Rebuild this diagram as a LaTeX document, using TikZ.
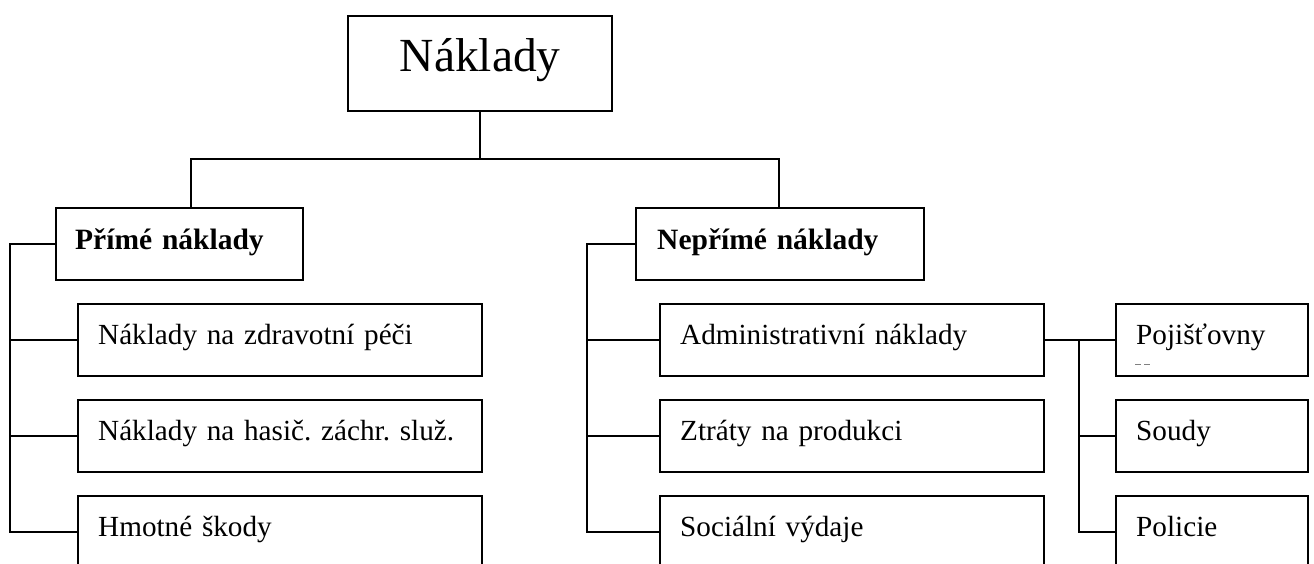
\documentclass[tikz,border=0pt]{standalone}
\usepackage{fontspec}
\setmainfont{Liberation Serif}
\begin{document}
\frenchspacing
\begin{tikzpicture}[x=1pt,y=-1pt,
  box/.style={draw, line width=2.4pt, inner ysep=0pt, inner xsep=20pt, anchor=north west, align=left,
    font=\fontsize{29.2}{36}\selectfont\frenchspacing},
  child/.style={box, text height=40pt, text depth=32pt},
  head/.style={box, text height=41pt, text depth=31pt, font=\fontsize{29.5}{36}\selectfont\frenchspacing\bfseries},
  conn/.style={line width=2.4pt}]
\useasboundingbox (0,0) rectangle (1314,563);
\clip (0,0) rectangle (1314,563);

% root
\node[box, align=center, text width=224pt, text height=55pt, text depth=40pt,
      font=\fontsize{47.5}{55}\selectfont] (root) at (347,15) {Náklady};

% level 1
\node[head, text width=209pt, inner xsep=19pt] (prime) at (55,207) {Přímé náklady};
\node[head, text width=246pt, inner xsep=21pt] (neprime) at (635,207) {Nepřímé náklady};

% direct costs
\node[child, text width=364pt] (a1) at (77,303) {Náklady na zdravotní péči};
\node[child, text width=364pt] (a2) at (77,399) {Náklady na hasič. záchr. služ.};
\node[child, text width=364pt] (a3) at (77,495) {Hmotné škody};

% indirect costs
\node[child, text width=344pt] (b1) at (659,303) {Administrativní náklady};
\node[child, text width=344pt] (b2) at (659,399) {Ztráty na produkci};
\node[child, text width=344pt] (b3) at (659,495) {Sociální výdaje};

% administrative
\node[child, text width=152pt] (c1) at (1115,303) {Pojišťovny};
\node[child, text width=152pt] (c2) at (1115,399) {Soudy};
\node[child, text width=152pt] (c3) at (1115,495) {Policie};

% small mark under Pojišťovny
\draw[gray, line width=0.6pt, dash pattern=on 6pt off 3pt] (1135,364) -- (1150,364);

% connectors
\coordinate (ls) at (191,159);
\coordinate (rs) at (779,159);
\draw[conn] (root.south) -- (root.south |- ls);
\draw[conn] (ls |- prime.north) -- (ls) -- (rs) -- (rs |- neprime.north);

\coordinate (lrail) at (10,0);
\draw[conn] (prime.west) -- (prime.west -| lrail) -- (a3.west -| lrail) -- (a3.west);
\draw[conn] (a1.west -| lrail) -- (a1.west);
\draw[conn] (a2.west -| lrail) -- (a2.west);

\coordinate (mrail) at (587,0);
\draw[conn] (neprime.west) -- (neprime.west -| mrail) -- (b3.west -| mrail) -- (b3.west);
\draw[conn] (b1.west -| mrail) -- (b1.west);
\draw[conn] (b2.west -| mrail) -- (b2.west);

\coordinate (rrail) at (1079,0);
\draw[conn] (b1.east) -- (c1.west);
\draw[conn] (b1.east -| rrail) -- (c3.west -| rrail) -- (c3.west);
\draw[conn] (c2.west -| rrail) -- (c2.west);
\end{tikzpicture}
\end{document}
